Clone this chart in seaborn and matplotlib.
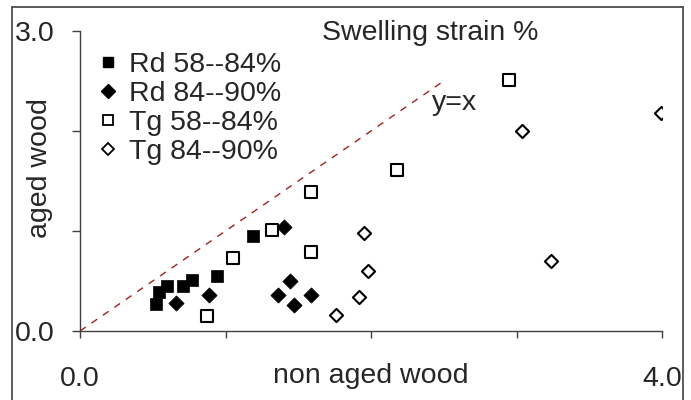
import matplotlib
matplotlib.use("Agg")
import matplotlib.pyplot as plt
import seaborn as sns
import pandas as pd
from matplotlib.lines import Line2D

# Data (non aged wood, aged wood) swelling strain %
rd1_x = [0.52, 0.54, 0.60, 0.71, 0.77, 0.94, 1.19]
rd1_y = [0.27, 0.39, 0.45, 0.45, 0.51, 0.55, 0.95]
rd2_x = [0.66, 0.89, 1.40, 1.44, 1.36, 1.47, 1.59]
rd2_y = [0.28, 0.36, 1.04, 0.50, 0.36, 0.26, 0.36]
tg1_x = [0.87, 1.05, 1.32, 1.59, 1.59, 2.18, 2.95]
tg1_y = [0.15, 0.73, 1.01, 0.79, 1.39, 1.61, 2.51]
tg2_x = [1.76, 1.95, 1.98, 1.92, 3.24, 3.04, 3.99]
tg2_y = [0.16, 0.98, 0.60, 0.34, 0.70, 2.00, 2.18]
labels = ["Rd 58--84%", "Rd 84--90%", "Tg 58--84%", "Tg 84--90%"]
line_x = [0.0, 2.5]
line_y = [0.0, 2.5]

FS = 20.5
sns.set_style("white")
plt.rcParams['font.family'] = ['Liberation Sans', 'DejaVu Sans']

fig = plt.figure(figsize=(6.91, 4.0), dpi=100)
ax = fig.add_axes([80/691, 69/400, (662-80)/691, 300/400])

df = pd.DataFrame({
    "x": rd1_x + rd2_x + tg1_x + tg2_x,
    "y": rd1_y + rd2_y + tg1_y + tg2_y,
    "g": [labels[0]]*len(rd1_x) + [labels[1]]*len(rd2_x) + [labels[2]]*len(tg1_x) + [labels[3]]*len(tg2_x),
})

styles = {
    labels[0]: dict(marker="s", s=85, color="black", edgecolor="black", linewidth=0.5),
    labels[1]: dict(marker="D", s=60, color="black", edgecolor="black", linewidth=0.5),
    labels[2]: dict(marker="s", s=65, color="white", edgecolor="black", linewidth=1.5),
    labels[3]: dict(marker="D", s=45, color="white", edgecolor="black", linewidth=1.5),
}
for lab in labels:
    sub = df[df.g == lab]
    sns.scatterplot(data=sub, x="x", y="y", ax=ax, legend=False, zorder=3, **styles[lab])

sns.lineplot(x=line_x, y=line_y, ax=ax, color="#A02020", linewidth=1.0,
             dashes=False, linestyle=(0, (5, 5)), zorder=2)

ax.set_xlim(0, 4)
ax.set_ylim(0, 3)
ax.set_xticks([0, 1, 2, 3, 4])
ax.set_xticklabels(["0.0", "", "", "", "4.0"])
ax.set_yticks([0, 1, 2, 3])
ax.set_yticklabels(["0.0", "", "", "3.0"])
for s in ["top", "right"]:
    ax.spines[s].set_visible(False)
for s in ["left", "bottom"]:
    ax.spines[s].set_color("#404040")
    ax.spines[s].set_linewidth(1.0)
ax.tick_params(axis="x", direction="out", length=5, width=1, color="#404040",
               pad=20, labelsize=FS, bottom=True)
ax.tick_params(axis="y", direction="out", length=6, width=1, color="#404040",
               pad=12, labelsize=FS, left=True)
ax.set_xlabel("non aged wood", fontsize=FS)
ax.set_ylabel("aged wood", fontsize=FS)
ax.xaxis.label.set_va("center")
ax.yaxis.label.set_va("center")
ax.xaxis.set_label_coords(0.5, -(376 - 331) / 300)
ax.yaxis.set_label_coords(-(80 - 40) / 582, (331 - 168) / 300)

ax.text(2.42, 2.28, "y=x", fontsize=FS, ha="left", va="center")
fig.text(430/691, 1 - 33/400, "Swelling strain %", fontsize=FS, ha="center", va="center")

handles = [
    Line2D([], [], linestyle="none", marker="s", markersize=7.5, markerfacecolor="black", markeredgecolor="black"),
    Line2D([], [], linestyle="none", marker="D", markersize=7, markerfacecolor="black", markeredgecolor="black"),
    Line2D([], [], linestyle="none", marker="s", markersize=6.5, markerfacecolor="white", markeredgecolor="black", markeredgewidth=1.3),
    Line2D([], [], linestyle="none", marker="D", markersize=6, markerfacecolor="white", markeredgecolor="black", markeredgewidth=1.3),
]
ax.legend(handles, labels, loc="upper left", bbox_to_anchor=(0.0285, 0.93), frameon=False,
          fontsize=FS, handlelength=0.8, handletextpad=0.34, labelspacing=0.11,
          borderaxespad=0, borderpad=0)

# outer frame
for xs, ys in [([12, 12], [0, 393]), ([12, 683], [393, 393]), ([683, 683], [393, 0])]:
    fig.add_artist(Line2D([x/691 for x in xs], [y/400 for y in ys], color="#404040", linewidth=1.2,
                          transform=fig.transFigure))

fig.savefig("out.png", dpi=100)
